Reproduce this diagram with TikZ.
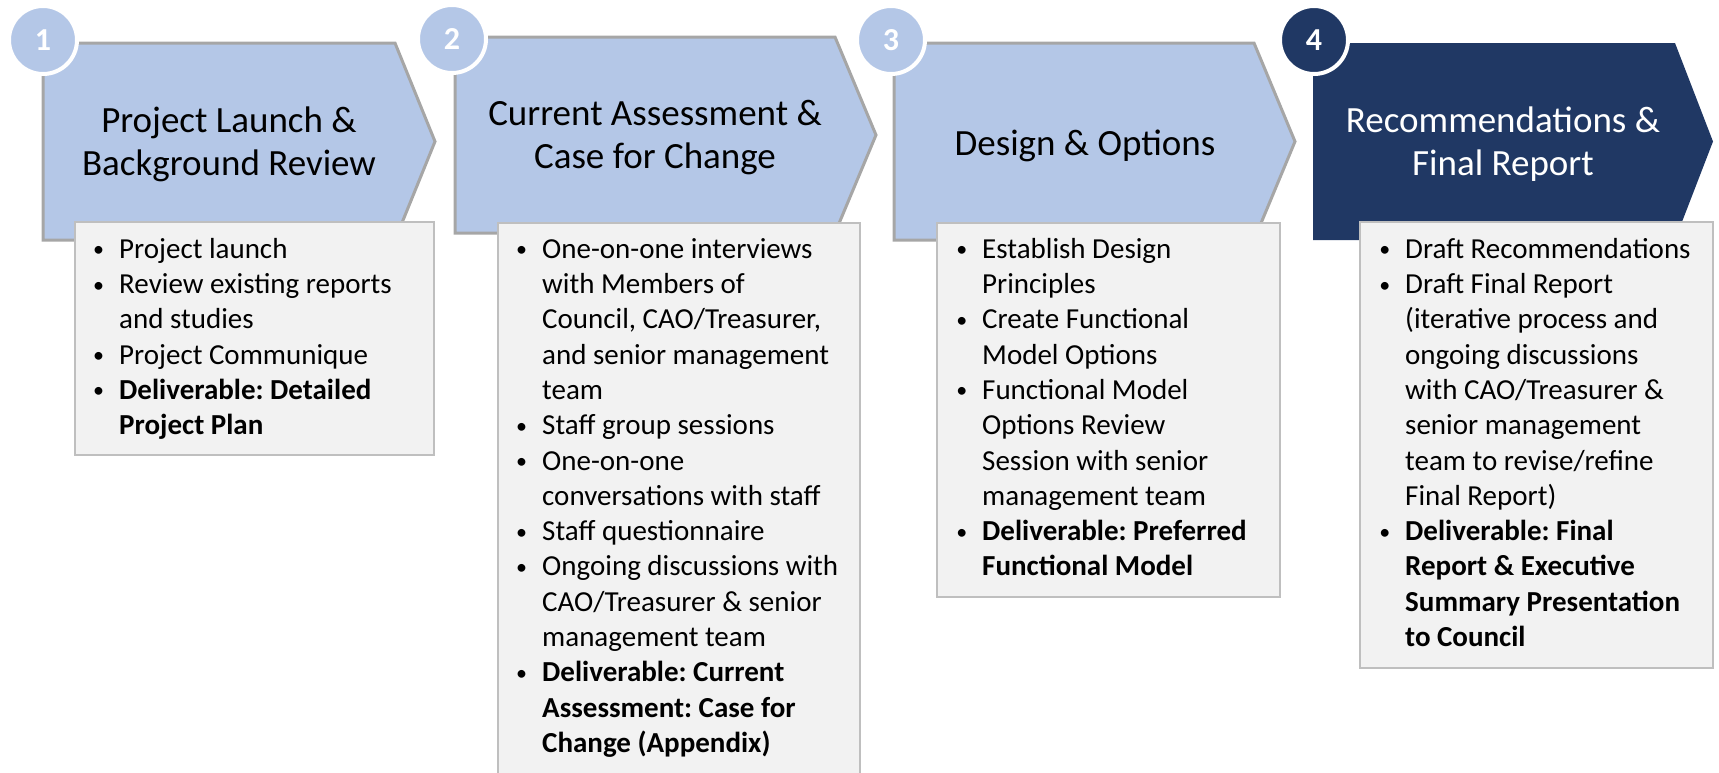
\documentclass[tikz,border=0pt]{standalone}
\usepackage{fontspec}
\setmainfont{Carlito}
\frenchspacing
\definecolor{phaselight}{HTML}{B4C7E7}
\definecolor{phasedark}{HTML}{203864}
\definecolor{chevedge}{HTML}{A6A6A6}
\definecolor{boxfill}{HTML}{F2F2F2}
\definecolor{boxedge}{HTML}{BFBFBF}
% bullet hung in the left margin of each item
\newcommand\itm{\llap{\raisebox{1.5pt}{\fontsize{22}{22}\selectfont\textbullet}\hspace{15pt}}}
\tikzset{
  chevlight/.style={fill=phaselight, draw=chevedge, line width=3pt, line join=miter},
  chevdark/.style={fill=phasedark, draw=none},
  numlight/.style={circle, fill=phaselight, draw=white, line width=4pt, minimum size=68pt,
    inner sep=0pt, text=white, font=\fontsize{32}{34}\selectfont\bfseries},
  numdark/.style={numlight, fill=phasedark},
  title/.style={anchor=north, align=center, inner sep=0pt,
    font=\fontsize{37}{43}\selectfont},
  listbox/.style={fill=boxfill, draw=boxedge, line width=2pt},
  listtext/.style={anchor=north west, align=left, inner sep=0pt,
    font=\fontsize{29}{35.3}\selectfont},
}
\begin{document}
\begin{tikzpicture}[x=1pt,y=-1pt]
\useasboundingbox (0,0) rectangle (1719,772);

% phase chevrons
\draw[chevlight] (43,43) -- (395,43) -- (435,141.5) -- (395,240) -- (43,240) -- cycle;
\draw[chevlight] (455,37) -- (835,37) -- (876,135) -- (835,233) -- (455,233) -- cycle;
\draw[chevlight] (894,43) -- (1254,43) -- (1295,141.5) -- (1254,240) -- (894,240) -- cycle;
\fill[chevdark] (1313,43) -- (1675,43) -- (1713,141.5) -- (1675,240) -- (1313,240) -- cycle;

% phase titles
\node[title] (t1) at (229,92) {\rule{0pt}{40pt}Project Launch \&\\Background Review};
\node[title] (t2) at (655,85) {\rule{0pt}{40pt}Current Assessment \&\\Case for Change};
\node[title] (t3) at (1085,115) {\rule{0pt}{40pt}Design \& Options};
\node[title, text=white] (t4) at (1503,92) {\rule{0pt}{40pt}Recommendations \&\\Final Report};

% phase numbers
\node[numlight] (c1) at (43,40) {1};
\node[numlight] (c2) at (452,39) {2};
\node[numlight] (c3) at (891,40) {3};
\node[numdark] (c4) at (1314,40) {4};

% activity boxes
\draw[listbox] (75,222) rectangle (434,455);
\draw[listbox] (498,223) rectangle (860,790);
\draw[listbox] (937,223) rectangle (1280,597);
\draw[listbox] (1360,222) rectangle (1713,668);

\node[listtext] (l1) at (119,228) {\rule{0pt}{30pt}\itm Project launch\\
  \itm Review existing reports\\
  and studies\\
  \itm Project Communique\\
  \itm\textbf{Deliverable: Detailed}\\
  \textbf{Project Plan}};

\node[listtext] (l2) at (542,228) {\rule{0pt}{30pt}\itm One-on-one interviews\\
  with Members of\\
  Council, CAO/Treasurer,\\
  and senior management\\
  team\\
  \itm Staff group sessions\\
  \itm One-on-one\\
  conversations with staff\\
  \itm Staff questionnaire\\
  \itm Ongoing discussions with\\
  CAO/Treasurer \& senior\\
  management team\\
  \itm\textbf{Deliverable: Current}\\
  \textbf{Assessment: Case for}\\
  \textbf{Change (Appendix)}};

\node[listtext] (l3) at (982,228) {\rule{0pt}{30pt}\itm Establish Design\\
  Principles\\
  \itm Create Functional\\
  Model Options\\
  \itm Functional Model\\
  Options Review\\
  Session with senior\\
  management team\\
  \itm\textbf{Deliverable: Preferred}\\
  \textbf{Functional Model}};

\node[listtext] (l4) at (1405,228) {\rule{0pt}{30pt}\itm Draft Recommendations\\
  \itm Draft Final Report\\
  (iterative process and\\
  ongoing discussions\\
  with CAO/Treasurer \&\\
  senior management\\
  team to revise/refine\\
  Final Report)\\
  \itm\textbf{Deliverable: Final}\\
  \textbf{Report \& Executive}\\
  \textbf{Summary Presentation}\\
  \textbf{to Council}};
\end{tikzpicture}
\end{document}
